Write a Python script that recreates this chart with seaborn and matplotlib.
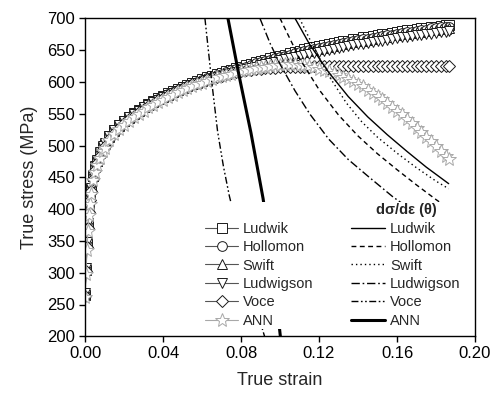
import matplotlib
matplotlib.use("Agg")
import matplotlib.pyplot as plt
import seaborn as sns
import pandas as pd

# ---------------- data ----------------
strain = [0.0, 0.0005, 0.001, 0.0015, 0.002, 0.0025, 0.003, 0.004, 0.005, 0.006,
          0.0075, 0.009, 0.01, 0.0125, 0.015, 0.0175,
          0.02, 0.0225, 0.025, 0.0275, 0.03, 0.0325, 0.035, 0.0375, 0.04, 0.0425,
          0.045, 0.0475, 0.05, 0.0525, 0.055, 0.0575, 0.06, 0.0625, 0.065, 0.0675,
          0.07, 0.0725, 0.075, 0.0775, 0.08, 0.0825, 0.085, 0.0875, 0.09, 0.0925,
          0.095, 0.0975, 0.1, 0.1025, 0.105, 0.1075, 0.11, 0.1125, 0.115, 0.1175,
          0.12, 0.1225, 0.125, 0.1275, 0.13, 0.1325, 0.135, 0.1375, 0.14, 0.1425,
          0.145, 0.1475, 0.15, 0.1525, 0.155, 0.1575, 0.16, 0.1625, 0.165, 0.1675,
          0.17, 0.1725, 0.175, 0.1775, 0.18, 0.1825, 0.185, 0.1865]

ludwik = [265, 305, 345, 375, 400, 418, 432, 452, 466, 476, 488, 498, 503, 515, 524, 532,
          539, 545, 551, 556, 561, 566, 570, 574, 578, 582,
          585, 589, 592, 595, 598, 601, 604, 607, 609, 612,
          614, 617, 619, 622, 624, 626, 628, 631, 633, 635,
          637, 639, 641, 643, 645, 647, 649, 651, 653, 655,
          656, 658, 659, 661, 662, 664, 665, 667, 668, 670,
          671, 672, 673, 675, 676, 677, 678, 680, 681, 682,
          683, 684, 685, 686, 687, 688, 689, 690]
hollomon = [265, 304, 344, 374, 399, 417, 431, 451, 465, 475, 487, 497, 502, 514, 523, 531,
            538, 544, 550, 555, 560, 565, 569, 573, 577, 581,
            584, 588, 591, 594, 597, 600, 603, 606, 608, 611,
            613, 616, 618, 620, 622, 624, 627, 629, 631, 633,
            635, 637, 639, 641, 643, 645, 647, 649, 650, 652,
            654, 655, 657, 658, 660, 661, 663, 664, 666, 667,
            668, 669, 671, 672, 673, 674, 676, 677, 678, 679,
            680, 681, 682, 684, 685, 686, 686, 687]
swift = [266, 306, 346, 376, 401, 418, 432, 452, 466, 476, 488, 498, 503, 514, 523, 531,
         538, 544, 550, 555, 560, 565, 569, 573, 577, 580,
         584, 587, 590, 593, 596, 599, 602, 604, 607, 609,
         612, 614, 617, 619, 621, 623, 626, 628, 630, 632,
         634, 636, 638, 640, 641, 643, 645, 647, 648, 650,
         652, 653, 655, 656, 658, 659, 661, 662, 664, 665,
         666, 668, 669, 670, 671, 673, 674, 675, 676, 677,
         678, 679, 680, 681, 682, 683, 683, 684]
ludwigson = [268, 308, 348, 378, 402, 419, 433, 453, 467, 477, 489, 499, 504, 515, 524, 532,
             539, 545, 550, 555, 560, 564, 568, 572, 576, 580,
             583, 586, 589, 592, 595, 598, 600, 603, 605, 608,
             610, 612, 614, 616, 618, 620, 622, 624, 626, 628,
             630, 632, 634, 636, 637, 639, 641, 643, 644, 646,
             647, 649, 650, 652, 653, 655, 656, 658, 659, 660,
             661, 663, 664, 665, 666, 668, 669, 670, 671, 672,
             673, 674, 675, 676, 677, 678, 679, 680]
voce = [264, 302, 341, 371, 396, 414, 428, 448, 462, 472, 484, 494, 499, 511, 520, 528,
        535, 541, 547, 552, 557, 562, 566, 571, 575, 579,
        583, 587, 590, 593, 596, 599, 602, 604, 606, 608,
        610, 612, 614, 616, 617, 618, 619, 620, 621, 621.5,
        622, 622.5, 623, 623, 623.5, 623.5, 624, 624, 624, 624.5,
        624.5, 624.5, 624.5, 625, 625, 625, 625, 625, 625, 625,
        625, 625, 625, 625, 625, 625, 625, 625, 625, 625,
        625, 625, 625, 625, 625, 625, 625, 625]
ann = [262, 298, 335, 365, 390, 408, 424, 445, 459, 469, 481, 491, 496, 508, 518, 526,
       533, 539, 545, 550, 555, 560, 564, 568, 572, 576,
       580, 584, 587, 590, 593, 596, 599, 602, 604, 607,
       609, 611, 613, 615, 617, 619, 620, 622, 623, 624,
       625, 626, 627, 628, 628, 628, 627, 626, 625, 623,
       621, 619, 617, 614, 611, 608, 605, 601, 597, 593,
       588, 583, 578, 573, 567, 561, 555, 549, 542, 535,
       528, 521, 514, 507, 499, 491, 484, 479]

# d(sigma)/d(epsilon) curves
th_ludwik_x = [0.1077, 0.115, 0.125, 0.135, 0.145, 0.155, 0.165, 0.175, 0.1865]
th_ludwik_y = [700, 660, 615, 577, 545, 517, 491, 466, 440]
th_hollomon_x = [0.100, 0.110, 0.120, 0.130, 0.140, 0.150, 0.160, 0.170, 0.180, 0.1865]
th_hollomon_y = [700, 637, 588, 548, 515, 487, 462, 438, 415, 401]
th_swift_x = [0.110, 0.118, 0.126, 0.134, 0.142, 0.150, 0.160, 0.170, 0.180, 0.1865]
th_swift_y = [700, 650, 605, 567, 537, 513, 488, 465, 444, 432]
th_ludwigson_x = [0.0897, 0.095, 0.100, 0.1077, 0.1154, 0.125, 0.135, 0.145, 0.158, 0.170, 0.1865]
th_ludwigson_y = [700, 660, 628, 586, 549, 510, 478, 452, 419, 393, 362]
th_voce_x = [0.0615, 0.065, 0.068, 0.071, 0.074, 0.080, 0.086, 0.091, 0.095]
th_voce_y = [700, 600, 522, 467, 421, 345, 272, 211, 170]
th_ann_x = [0.0733, 0.079, 0.0851, 0.0913, 0.096, 0.100, 0.102]
th_ann_y = [700, 610, 520, 417, 320, 205, 150]

labels = ["Ludwik", "Hollomon", "Swift", "Ludwigson", "Voce", "ANN"]
x_ticks = [0.00, 0.04, 0.08, 0.12, 0.16, 0.20]
y_ticks = [200, 250, 300, 350, 400, 450, 500, 550, 600, 650, 700]

# ---------------- plotting ----------------
sns.set_style("ticks")
plt.rcParams["font.family"] = ["Liberation Sans", "DejaVu Sans"]

W, H = 493, 394
fig = plt.figure(figsize=(W / 100, H / 100), dpi=100)
ax = fig.add_axes([85 / W, 1 - 336.3 / H, 390 / W, 318 / H])

stress_series = [ludwik, hollomon, swift, ludwigson, voce, ann]
markers = ["s", "o", "^", "v", "D", "*"]
msizes = [6.5, 7, 7.5, 7.5, 6.5, 10]
edgecols = ["#1a1a1a"] * 5 + ["#a8a8a8"]
linecols = ["#555555"] * 5 + ["#a8a8a8"]

stress_handles = []
for lab, ys, mk, ms, ec, lc in zip(labels, stress_series, markers, msizes, edgecols, linecols):
    df = pd.DataFrame({"strain": strain, "stress": ys})
    sns.lineplot(data=df, x="strain", y="stress", ax=ax, sort=False, estimator=None,
                 color=lc, lw=0.8, marker=mk, markersize=ms, markerfacecolor="white",
                 markeredgecolor=ec, markeredgewidth=0.7, label=lab, legend=False)
    stress_handles.append(ax.lines[-1])

theta_x = [th_ludwik_x, th_hollomon_x, th_swift_x, th_ludwigson_x, th_voce_x, th_ann_x]
theta_y = [th_ludwik_y, th_hollomon_y, th_swift_y, th_ludwigson_y, th_voce_y, th_ann_y]
styles = ["-", (0, (3.5, 2.5)), (0, (1, 2.2)), (0, (6, 2, 1.2, 2)),
          (0, (5, 1.8, 1.2, 1.8, 1.2, 1.8)), "-"]
widths = [1.0, 1.0, 1.0, 1.0, 1.0, 2.2]
theta_handles = []
for lab, xs, ys, ls, lw in zip(labels, theta_x, theta_y, styles, widths):
    df = pd.DataFrame({"strain": xs, "theta": ys})
    sns.lineplot(data=df, x="strain", y="theta", ax=ax, sort=False, estimator=None,
                 color="black", lw=lw, linestyle=ls, label=lab, legend=False)
    theta_handles.append(ax.lines[-1])

ax.set_xlim(0, 0.20)
ax.set_ylim(200, 700)
ax.set_xticks(x_ticks)
ax.set_xticklabels([f"{v:.2f}" for v in x_ticks])
ax.set_yticks(y_ticks)
ax.tick_params(axis="both", direction="out", length=4, width=1, labelsize=12,
               colors="black", pad=3)
for s in ax.spines.values():
    s.set_linewidth(1.0)
    s.set_color("black")
ax.set_xlabel("True strain", fontsize=13, labelpad=8)
ax.set_ylabel("True stress (MPa)", fontsize=13, labelpad=7)

leg_kw = dict(fontsize=10.5, frameon=True, framealpha=1, edgecolor="none",
              facecolor="white", borderpad=0.1, borderaxespad=0,
              labelspacing=0.3, handletextpad=0.35, loc="upper left",
              bbox_transform=fig.transFigure, fancybox=False)

leg1 = ax.legend(stress_handles, labels, title=" ", handlelength=2.2,
                 bbox_to_anchor=(204 / W, 1 - 202 / H),
                 title_fontproperties={"size": 10.5, "weight": "bold"}, **leg_kw)
ax.add_artist(leg1)
leg2 = ax.legend(theta_handles, labels, title="dσ/dε (θ)", handlelength=2.3,
                 bbox_to_anchor=(350 / W, 1 - 202 / H),
                 title_fontproperties={"size": 10.5, "weight": "bold"}, **leg_kw)

fig.savefig("out.png", dpi=100)
